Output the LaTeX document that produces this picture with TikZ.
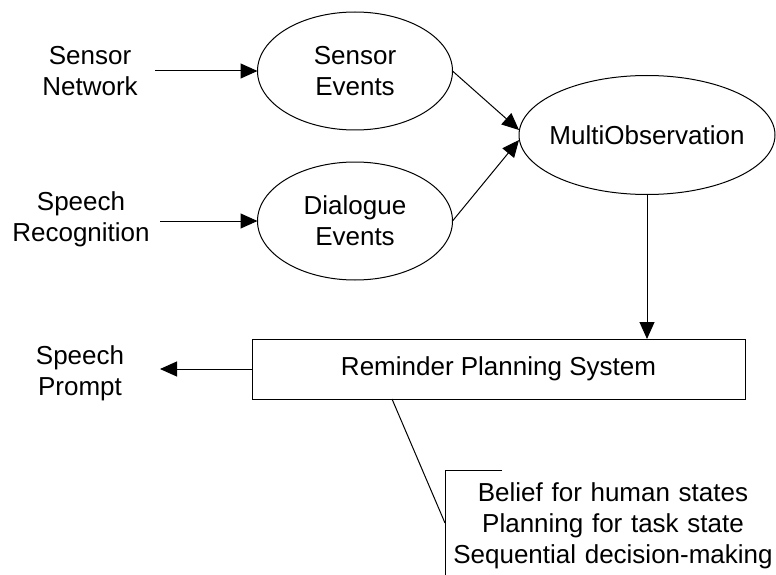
\documentclass[tikz,border=0pt]{standalone}
\usepackage{fontspec}
\setmainfont{Liberation Sans}
\usetikzlibrary{shapes.geometric,arrows.meta}
\begin{document}
\begin{tikzpicture}[x=1pt,y=-1pt,
  every node/.style={font=\fontsize{26}{31}\selectfont, inner sep=0pt, outer sep=0pt},
  lbl/.style={align=center},
  oval/.style={draw, ellipse, line width=1pt, minimum width=195pt, minimum height=118pt, align=center},
  box/.style={draw, rectangle, line width=1pt, minimum width=493pt, minimum height=60pt},
  arr/.style={line width=1pt, -{Triangle[length=17pt,width=15pt]}},
  ln/.style={line width=1pt}]
\useasboundingbox (0,0) rectangle (776,575);
\node[lbl, text width=130pt] (sn) at (90,71.5) {Sensor\\Network};
\node[oval] (se) at (355,71) {Sensor\\Events};
\node[lbl, text width=158pt] (sr) at (81,219) {Speech\\Recognition};
\node[oval] (de) at (355,221) {Dialogue\\Events};
\node[oval, minimum width=256pt, minimum height=119pt] (mo) at (647,135) {\makebox[0pt]{MultiObservation}};
\node[box] (rps) at (498.5,369) {Reminder Planning System};
\node[lbl, text width=160pt] (sp) at (80,373) {Speech\\Prompt};
\node[lbl, text width=330pt] (note) at (613,526) {Belief for human states\\Planning for task state\\Sequential decision-making};
\draw[arr] (sn.east |- se.west) -- (se.west);
\draw[arr] (sr.east |- de.west) -- (de.west);
\draw[arr] (se.east) -- ([yshift=5pt]mo.west);
\draw[arr] (de.east) -- ([yshift=-5pt]mo.west);
\draw[arr] (mo.south) -- (mo.south |- rps.north);
\draw[arr] (rps.west) -- (sp.east |- rps.west);
\coordinate (c1) at ([xshift=140pt]rps.south west);
\coordinate (c2) at (445,523);
\coordinate (btop) at (445,470);
\coordinate (bend) at (502,470);
\coordinate (bbot) at (445,575);
\draw[ln] (c1) -- (c2);
\draw[ln] (bend) -- (btop) -- (bbot);
\end{tikzpicture}
\end{document}
